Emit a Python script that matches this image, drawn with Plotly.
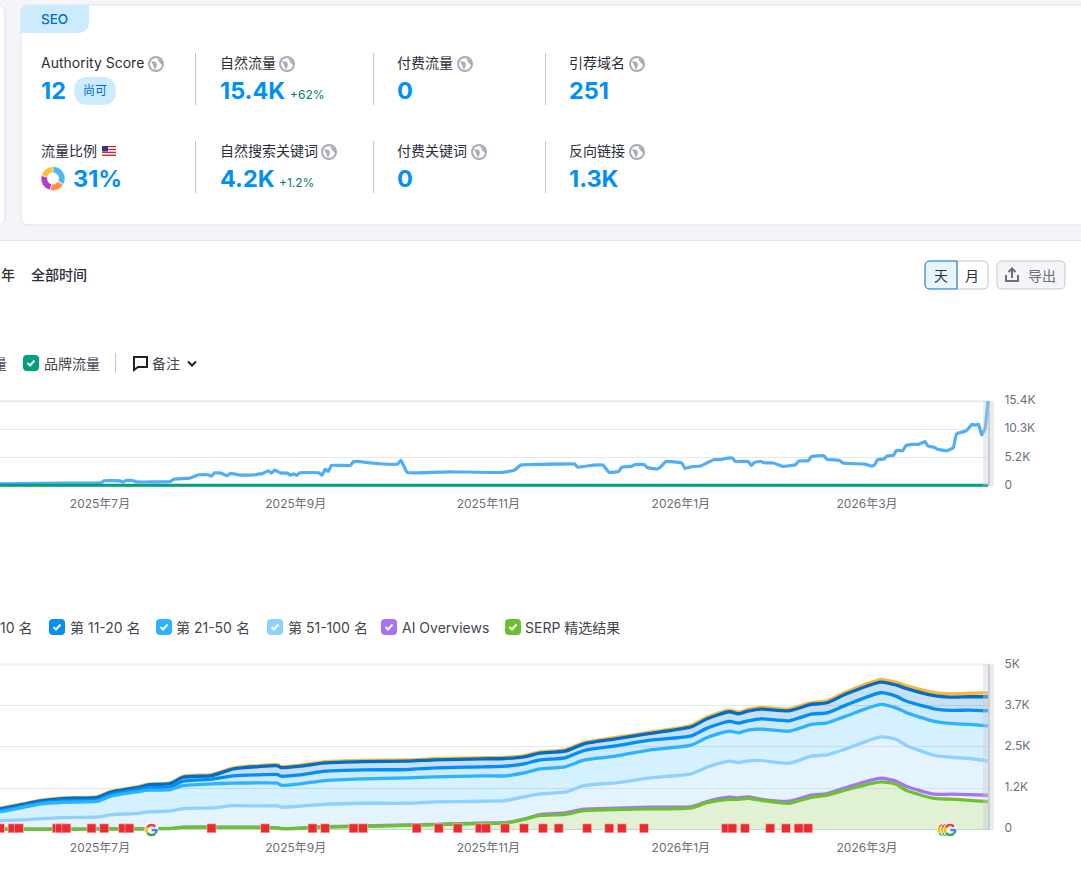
import math

import pandas as pd
import plotly.graph_objects as go

PAGE_W = 1081
PAGE_H = 872
FONT = "Inter, 'Noto Sans CJK SC', sans-serif"
BASE_DATE = pd.Timestamp("2025-07-01")

# days counted from 2025-07-01
traffic_days = [-32, -12, 0, 1, 6, 7, 8, 10, 11, 22, 23, 28, 31, 34, 35, 36, 38, 40, 41, 44, 49, 50, 51, 53, 54, 55,
                57, 59, 60, 61, 62, 63, 69, 70, 71, 72, 73, 79, 80, 81, 88, 94, 95, 97, 110, 127, 131, 133, 139, 150,
                151, 156, 159, 161, 164, 165, 168, 169, 172, 173, 176, 177, 179, 184, 185, 187, 190, 194, 196, 198,
                200, 201, 205, 206, 207, 209, 210, 213, 216, 220, 221, 224, 225, 229, 230, 234, 235, 242, 244, 245,
                246, 248, 249, 251, 252, 254, 255, 257, 259, 261, 262, 264, 265, 268, 270, 271, 274, 276, 277, 278,
                279, 280, 281]
organic_traffic = [300, 430, 490, 850, 850, 610, 915, 915, 670, 730, 1160, 1340, 1950, 1950, 1700, 2320, 2250, 1770,
                   2200, 1890, 1950, 2130, 2130, 2680, 2250, 2800, 2250, 2250, 1890, 2130, 1830, 2320, 2320, 1890,
                   2930, 2560, 3660, 3660, 4330, 4390, 3960, 3900, 4640, 2380, 2500, 2380, 2800, 3720, 3840, 3900,
                   3350, 3720, 3720, 2380, 2560, 3350, 3480, 3780, 3840, 3290, 2990, 3230, 4390, 4090, 3110, 3420,
                   3540, 4700, 4700, 4940, 5000, 4390, 4390, 3660, 4210, 4390, 4150, 4090, 3480, 3780, 4450, 4510,
                   5250, 5430, 4760, 4580, 4090, 3900, 3540, 3720, 4700, 4820, 5370, 5490, 6400, 6340, 7260, 7500,
                   7500, 7990, 7200, 6950, 6590, 6340, 6890, 9390, 9940, 11160, 10980, 11160, 9210, 10250, 15400]
branded_days = [-32, 281]
branded_traffic = [25, 25]
paid_traffic = [0, 0]

keyword_days = [-32, -25, -19, -12, -1, 3, 12, 15, 22, 26, 35, 42, 50, 56, 57, 63, 71, 83, 97, 106, 121, 128, 134,
                139, 147, 153, 163, 174, 187, 192, 199, 202, 205, 209, 218, 225, 230, 236, 247, 252, 255, 264, 269,
                275, 281]
top_3 = [638, 770, 881, 952, 992, 1149, 1301, 1372, 1413, 1610, 1661, 1864, 1934, 1955, 1904, 1945, 2051, 2091, 2102,
         2142, 2172, 2183, 2238, 2350, 2410, 2633, 2785, 2947, 3155, 3403, 3616, 3555, 3636, 3702, 3651, 3844, 3899,
         4168, 4542, 4456, 4360, 4147, 4111, 4127, 4142]
top_10 = [618, 750, 861, 932, 972, 1124, 1276, 1347, 1388, 1580, 1631, 1834, 1904, 1925, 1874, 1915, 2016, 2056, 2067,
          2107, 2137, 2148, 2198, 2310, 2370, 2593, 2745, 2907, 3110, 3353, 3566, 3505, 3586, 3647, 3596, 3789, 3839,
          4103, 4467, 4376, 4275, 4052, 4011, 4022, 4022]
top_20 = [567, 699, 810, 871, 902, 1054, 1216, 1256, 1287, 1459, 1520, 1621, 1651, 1661, 1611, 1651, 1763, 1803, 1813,
          1864, 1894, 1915, 1985, 2107, 2168, 2391, 2533, 2705, 2836, 3069, 3272, 3221, 3292, 3353, 3292, 3495, 3535,
          3768, 4143, 4032, 3890, 3657, 3606, 3616, 3596]
top_50 = [527, 658, 770, 821, 851, 1003, 1145, 1185, 1205, 1327, 1378, 1398, 1408, 1398, 1337, 1378, 1479, 1530, 1560,
          1590, 1621, 1621, 1712, 1834, 1894, 2097, 2218, 2411, 2553, 2786, 2978, 2928, 3009, 3039, 2978, 3181, 3231,
          3434, 3789, 3677, 3546, 3272, 3211, 3181, 3140]
top_100 = [263, 284, 324, 355, 375, 436, 486, 527, 557, 628, 648, 719, 709, 709, 669, 699, 760, 790, 790, 831, 851,
           871, 983, 1074, 1124, 1327, 1408, 1560, 1682, 1884, 2067, 2026, 2077, 2087, 2006, 2218, 2259, 2441, 2806,
           2725, 2553, 2239, 2188, 2148, 2077]
ai_overviews = [5, 5, 5, 5, 10, 10, 10, 20, 25, 65, 65, 65, 65, 45, 25, 35, 80, 100, 130, 150, 190, 200, 310, 446, 496,
                608, 638, 669, 689, 841, 972, 952, 983, 912, 851, 1033, 1084, 1266, 1550, 1459, 1307, 1064, 1064,
                1054, 1033]
serp_features = [5, 5, 5, 5, 10, 10, 10, 20, 20, 60, 60, 60, 60, 40, 20, 30, 70, 90, 120, 140, 180, 190, 300, 420, 455,
                 565, 600, 620, 650, 810, 910, 910, 940, 880, 790, 970, 1035, 1195, 1440, 1360, 1185, 935, 915, 880,
                 840]

note_days = [-32, -28, -26, -14, -13, -11, -3, 1, 7, 9, 35, 52, 67, 71, 80, 83, 100, 107, 113, 120, 122, 128, 134, 140,
             145, 154, 161, 165, 172, 198, 200, 204, 212, 217, 221, 224]
google_days = [16, 267, 268, 269]

month_ticks = ["2025-07-01", "2025-09-01", "2025-11-01", "2026-01-01", "2026-03-01"]
month_labels = ["2025年7月", "2025年9月", "2025年11月", "2026年1月", "2026年3月"]
traffic_ticks = [0, 5133, 10266, 15400]
traffic_labels = ["0", "5.2K", "10.3K", "15.4K"]
keyword_ticks = [0, 1250, 2500, 3750, 5000]
keyword_labels = ["0", "1.2K", "2.5K", "3.7K", "5K"]
country_share = [33, 1, 20, 25, 21]


def to_dates(days):
    return [BASE_DATE + pd.Timedelta(days=d) for d in days]


def fx(x):
    return x / PAGE_W


def fy(y):
    return 1 - y / PAGE_H


shapes = []
annotations = []


def add_path(points, fill=None, line=None, width=1, close=True, layer="below"):
    d = "M " + " L ".join(f"{fx(x):.5f},{fy(y):.5f}" for x, y in points)
    shapes.append(dict(type="path", path=d + (" Z" if close else ""), xref="paper", yref="paper", layer=layer,
                       fillcolor=fill or "rgba(0,0,0,0)", line=dict(color=line or "rgba(0,0,0,0)", width=width)))


def add_rrect(x0, y0, x1, y1, r, fill=None, line=None, width=1, corners=(1, 1, 1, 1)):
    tl, tr, br, bl = [r * c for c in corners]
    p = f"M {fx(x0 + tl):.5f},{fy(y0):.5f} L {fx(x1 - tr):.5f},{fy(y0):.5f} "
    p += f"Q {fx(x1):.5f},{fy(y0):.5f} {fx(x1):.5f},{fy(y0 + tr):.5f} L {fx(x1):.5f},{fy(y1 - br):.5f} "
    p += f"Q {fx(x1):.5f},{fy(y1):.5f} {fx(x1 - br):.5f},{fy(y1):.5f} L {fx(x0 + bl):.5f},{fy(y1):.5f} "
    p += f"Q {fx(x0):.5f},{fy(y1):.5f} {fx(x0):.5f},{fy(y1 - bl):.5f} L {fx(x0):.5f},{fy(y0 + tl):.5f} "
    p += f"Q {fx(x0):.5f},{fy(y0):.5f} {fx(x0 + tl):.5f},{fy(y0):.5f} Z"
    shapes.append(dict(type="path", path=p, xref="paper", yref="paper", layer="below",
                       fillcolor=fill or "rgba(0,0,0,0)", line=dict(color=line or "rgba(0,0,0,0)", width=width)))


def add_rect(x0, y0, x1, y1, fill, layer="below"):
    shapes.append(dict(type="rect", xref="paper", yref="paper", x0=fx(x0), x1=fx(x1), y0=fy(y1), y1=fy(y0),
                       fillcolor=fill, line=dict(width=0), layer=layer))


def add_text(x, y, text, size=14, color="#2B2E38", weight=400, anchor="left"):
    if anchor == "left":
        x -= 1.2
    annotations.append(dict(x=fx(x), y=fy(y), xref="paper", yref="paper", text=text, showarrow=False, xanchor=anchor,
                            yanchor="middle", borderpad=0, font=dict(family=FONT, size=size, color=color, weight=weight)))


def add_globe(x, y):
    shapes.append(dict(type="circle", xref="paper", yref="paper", x0=fx(x - 8), x1=fx(x + 8), y0=fy(y + 8),
                       y1=fy(y - 8), fillcolor="#A9ABB6", line=dict(width=0), layer="below"))
    shapes.append(dict(type="circle", xref="paper", yref="paper", x0=fx(x - 6), x1=fx(x + 6), y0=fy(y + 6),
                       y1=fy(y - 6), fillcolor="#FFFFFF", line=dict(width=0), layer="below"))
    add_path([(x - 5, y - 3), (x, y - 2), (x + 1, y + 1), (x - 1, y + 6), (x - 3, y + 1)], fill="#A9ABB6")
    add_path([(x + 1, y - 6), (x + 6, y - 3), (x + 6, y + 1), (x + 3, y - 2)], fill="#A9ABB6")


def add_checkbox(x, y, color):
    add_rrect(x, y, x + 16, y + 16, 4, fill=color)
    add_path([(x + 4.5, y + 8), (x + 7, y + 10.5), (x + 11.5, y + 5.5)], line="#FFFFFF", width=2, close=False)


def add_google_icon(day):
    # pixel-sized shape tied to the date; yref paper so the lower half is not clipped by the subplot
    anchor = dict(xref="x2", yref="paper", xsizemode="pixel", ysizemode="pixel", yanchor=fy(830), layer="above",
                  xanchor=str(to_dates([day])[0]))
    radius = 5
    shapes.append(dict(type="path", path="M -7,0 Q -7,7 0,7 Q 7,7 7,0 Q 7,-7 0,-7 Q -7,-7 -7,0 Z",
                       fillcolor="#FFFFFF", line=dict(width=0), **anchor))
    arcs = [(40, 150, "#EA4335"), (150, 215, "#FBBC05"), (215, 320, "#34A853"), (320, 360, "#4285F4")]
    for start, end, color in arcs:
        steps = range(start, end + 1, 10)
        pts = [f"{radius * math.cos(math.radians(a)):.2f},{radius * math.sin(math.radians(a)):.2f}" for a in steps]
        shapes.append(dict(type="path", path="M " + " L ".join(pts), line=dict(color=color, width=2.6), **anchor))
    shapes.append(dict(type="path", path=f"M 0,0 L {radius + 1},0", line=dict(color="#4285F4", width=2.4), **anchor))


# page background and the metric cards
add_rect(0, 0, PAGE_W, 240, "#F4F5F9")
add_rect(0, 240, PAGE_W, 241, "#E6E7EC")
add_rrect(-20, 5, 5, 225, 8, fill="#FFFFFF", line="#E0E1E9")
add_rrect(21, 5, 1100, 225, 8, fill="#FFFFFF", line="#E0E1E9")
add_rrect(21, 5, 89, 33, 10, fill="#CCEBFF", corners=(0.8, 0, 1.2, 0))
add_text(41, 19, "SEO", 13.5, "#006DCA", 500)

for x in [195, 373, 545]:
    add_rect(x, 53, x + 1, 105, "#C4C7CF")
    add_rect(x, 141, x + 1, 193, "#C4C7CF")

add_text(41, 62.4, "Authority Score")
add_text(220, 62.4, "自然流量")
add_text(397, 62.4, "付费流量")
add_text(569, 62.4, "引荐域名")
add_text(41, 150.4, "流量比例")
add_text(220, 150.4, "自然搜索关键词")
add_text(397, 150.4, "付费关键词")
add_text(569, 150.4, "反向链接")
for gx, gy in [(156, 64), (287, 64), (465, 64), (637, 64), (329, 152), (479, 152), (637, 152)]:
    add_globe(gx, gy)

add_text(41, 90.5, "12", 23.5, "#008FF8", 700)
add_text(220, 90.5, "15.4K", 23.5, "#008FF8", 700)
add_text(397, 90.5, "0", 23.5, "#008FF8", 700)
add_text(569, 90.5, "251", 23.5, "#008FF8", 700)
add_text(73, 178.5, "31%", 23.5, "#008FF8", 700)
add_text(220, 178.5, "4.2K", 23.5, "#008FF8", 700)
add_text(397, 178.5, "0", 23.5, "#008FF8", 700)
add_text(569, 178.5, "1.3K", 23.5, "#008FF8", 700)
add_text(290, 94.5, "+62%", 12, "#00806A")
add_text(279, 182.5, "+1.2%", 12, "#00806A")
add_rrect(74, 77, 116, 105, 14, fill="#CCEBFF")
add_text(95, 91, "尚可", 12, "#006DCA", anchor="center")

# little US flag
for i in range(7):
    add_rect(102, 146 + i * 10 / 7, 116, 146 + (i + 1) * 10 / 7, "#D8262C" if i % 2 == 0 else "#FFFFFF")
add_rect(102, 146, 108, 151.5, "#2E3A8C")

# period row and buttons
add_text(1, 274, "年", 14, "#2B2E38", 500)
add_text(31, 274, "全部时间", 14, "#2B2E38", 500)
add_rrect(957, 261, 988, 289, 5, fill="#FFFFFF", line="#C4C7CF", corners=(0, 1, 1, 0))
add_rrect(925, 261, 957, 289, 5, fill="#E6F5FF", line="#006DCA", corners=(1, 0, 0, 1))
add_text(941, 275, "天", 14, "#2B2E38", anchor="center")
add_text(972, 275, "月", 14, "#2B2E38", anchor="center")
add_rrect(997, 261, 1065, 289, 5, fill="#F4F5F9", line="#C4C7CF")
add_text(1042, 275, "导出", 14, "#6C6E79", anchor="center")
add_path([(1006, 275), (1006, 281), (1018, 281), (1018, 275)], line="#6C6E79", width=2, close=False)
add_path([(1012, 278), (1012, 269)], line="#6C6E79", width=2, close=False)
add_path([(1008.5, 272), (1012, 268.5), (1015.5, 272)], line="#6C6E79", width=2, close=False)

# legend rows
add_text(8, 363, "量", 14, "#44464F", anchor="right")
add_checkbox(23, 355, "#009F81")
add_text(44, 363, "品牌流量", 14, "#44464F")
add_rect(115, 353, 116, 373, "#C4C7CF")
add_path([(134, 357), (147, 357), (147, 367), (138, 367), (134, 370)], line="#1F2129", width=2)
add_text(152, 363, "备注", 14, "#44464F")
add_path([(188, 361.5), (192, 365.5), (196, 361.5)], line="#1F2129", width=2, close=False)

add_text(33, 627, "10 名", 14, "#44464F", anchor="right")
add_checkbox(49, 619, "#008FF8")
add_text(70, 627, "第 11-20 名", 14, "#44464F")
add_checkbox(156, 619, "#2BB3FF")
add_text(176, 627, "第 21-50 名", 14, "#44464F")
add_checkbox(267, 619, "#8FD0FF")
add_text(288, 627, "第 51-100 名", 14, "#44464F")
add_checkbox(381, 619, "#A972F5")
add_text(402, 627, "AI Overviews", 14, "#44464F")
add_checkbox(505, 619, "#6CC12F")
add_text(525, 627, "SERP 精选结果", 14, "#44464F")

# heavier top rule and grey band at the right end of both charts
for top, bottom in [(401, 486), (664.5, 830)]:
    add_rect(0, top - 1, 990, top + 1, "#F0F0F5")
    add_rect(983, top, 994, bottom, "rgba(200,206,212,0.4)", layer="above")
    add_rect(988, top, 990, bottom, "rgba(170,178,186,0.5)", layer="above")

for day in google_days:
    add_google_icon(day)

fig = go.Figure()

fig.add_trace(go.Scatter(x=to_dates(branded_days), y=paid_traffic, mode="lines", xaxis="x", yaxis="y",
                         line=dict(color="#FFB731", width=2)))
fig.add_trace(go.Scatter(x=to_dates(traffic_days), y=organic_traffic, mode="lines", xaxis="x", yaxis="y",
                         line=dict(color="#4FAEF6", width=3.2, shape="spline", smoothing=0.3)))
fig.add_trace(go.Scatter(x=to_dates(branded_days), y=branded_traffic, mode="lines", xaxis="x", yaxis="y",
                         line=dict(color="#009F81", width=3)))

# bands first, bottom up, then the lines on top
keyword_x = to_dates(keyword_days)
bands = [(serp_features, "rgba(108,193,47,0.21)", "tozeroy"),
         (ai_overviews, "rgba(169,114,245,0.12)", "tonexty"),
         (top_100, "rgba(143,208,255,0.24)", "tonexty"),
         (top_50, "rgba(43,179,255,0.2)", "tonexty"),
         (top_20, "rgba(0,143,248,0.2)", "tonexty"),
         (top_10, "rgba(0,109,202,0.22)", "tonexty"),
         (top_3, "rgba(255,183,49,0.25)", "tonexty")]
for values, color, fill in bands:
    fig.add_trace(go.Scatter(x=keyword_x, y=values, mode="none", fill=fill, fillcolor=color, xaxis="x2", yaxis="y2",
                             line=dict(shape="spline", smoothing=0.6)))

lines = [(top_3, "#FFB731"), (top_10, "#006DCA"), (top_20, "#008FF8"), (top_50, "#2BB3FF"), (top_100, "#8FD0FF"),
         (ai_overviews, "#A972F5"), (serp_features, "#6CC12F")]
for values, color in lines:
    fig.add_trace(go.Scatter(x=keyword_x, y=values, mode="lines", xaxis="x2", yaxis="y2",
                             line=dict(color=color, width=3.3, shape="spline", smoothing=0.6)))

# red note flags sitting on the baseline, tail first
fig.add_trace(go.Scatter(x=[d - pd.Timedelta(hours=15) for d in to_dates(note_days)], y=[-130] * len(note_days),
                         mode="markers", marker=dict(symbol="triangle-nw", size=6, color="#EE2A2F"),
                         xaxis="x2", yaxis="y2", cliponaxis=False))
fig.add_trace(go.Scatter(x=to_dates(note_days), y=[30] * len(note_days), mode="markers",
                         marker=dict(symbol="square", size=9, color="#EE2A2F", line=dict(color="#FBC9CB", width=0.6)),
                         xaxis="x2", yaxis="y2", cliponaxis=False))

fig.add_trace(go.Pie(values=country_share, sort=False, direction="clockwise", rotation=0, hole=0.48, textinfo="none",
                     domain=dict(x=[fx(41), fx(65)], y=[fy(190.5), fy(166.5)]),
                     marker=dict(colors=["#45B8F5", "#6CC98F", "#FF8C43", "#B13FC4", "#FFC13B"],
                                 line=dict(color="#FFFFFF", width=0.5))))

# axes run a little past the data so the thick lines at the edges are not cut in half
x_range = ["2025-05-30", "2026-04-08 15:00"]
tick_font = dict(family=FONT, size=12, color="#6C6E79")


def x_axis(anchor):
    return dict(domain=[0, fx(990)], range=x_range, type="date", anchor=anchor, tickmode="array", tickvals=month_ticks,
                ticktext=month_labels, ticks="outside", ticklen=5, tickcolor="rgba(0,0,0,0)", showgrid=False,
                showline=False, zeroline=False, tickfont=tick_font, automargin=False, ticklabelshift=-1)


def y_axis(anchor, bottom, top, ymin, ymax, ticks, labels):
    return dict(domain=[fy(bottom), fy(top)], range=[ymin, ymax], anchor=anchor, side="right", tickmode="array",
                tickvals=ticks, ticktext=labels, ticks="outside", ticklen=11, tickcolor="rgba(0,0,0,0)",
                gridcolor="#E6E6EB", gridwidth=1, zeroline=True, zerolinecolor="#D1D4DB", zerolinewidth=1,
                showline=False, tickfont=tick_font, automargin=False, ticklabelshift=-1)


fig.update_layout(
    width=PAGE_W,
    height=PAGE_H,
    margin=dict(l=0, r=0, t=0, b=0, pad=0, autoexpand=False),
    paper_bgcolor="#FFFFFF",
    plot_bgcolor="rgba(0,0,0,0)",
    showlegend=False,
    hovermode=False,
    font=dict(family=FONT),
    shapes=shapes,
    annotations=annotations,
    xaxis=x_axis("y"),
    xaxis2=x_axis("y2"),
    yaxis=y_axis("x", 487.5, 399, -366, 15766, traffic_ticks, traffic_labels),
    yaxis2=y_axis("x2", 831.3, 664.5, -61, 5000, keyword_ticks, keyword_labels),
)

fig.write_html("out.html", config=dict(displayModeBar=False), post_script="document.body.style.margin='0';")
